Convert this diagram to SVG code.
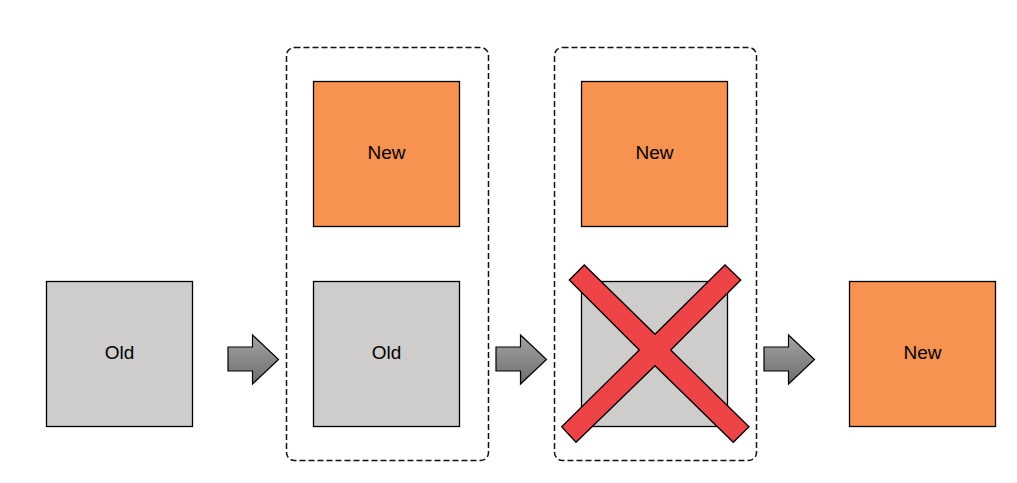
<svg xmlns="http://www.w3.org/2000/svg" width="1017" height="483" viewBox="0 0 1017 483">
<defs>
<linearGradient id="ag" x1="0" y1="0" x2="0" y2="1">
<stop offset="0" stop-color="#a3a3a3"/>
<stop offset="1" stop-color="#6e6e6e"/>
</linearGradient>
<path id="arrow" d="M0,12 H24.5 V0 L50.5,24.5 L24.5,49 V36 H0 Z"/>
</defs>
<style>
.old{fill:#cecdcc;stroke:#000;stroke-width:1.3}
.new{fill:#f79251;stroke:#000;stroke-width:1.3}
.grp{fill:none;stroke:#111;stroke-width:1.5;stroke-dasharray:6,3}
.lbl{font-family:"Liberation Sans",Arial,sans-serif;font-size:19px;fill:#000;text-anchor:middle}
.arr{fill:url(#ag);stroke:#000;stroke-width:1.2;stroke-linejoin:miter}
.cross{fill:#ef4447;stroke:#000;stroke-width:1.3;stroke-linejoin:miter}
</style>
<rect width="1017" height="483" fill="#fff"/>
<g id="group2"><rect class="grp" x="286.5" y="47.5" width="202" height="413" rx="8"/></g>
<g id="group3"><rect class="grp" x="554.5" y="47.5" width="202" height="413" rx="8"/></g>
<g id="old1"><rect class="old" x="46.5" y="281.5" width="146" height="145"/><text class="lbl" x="119.5" y="359">Old</text></g>
<g id="new2"><rect class="new" x="313.5" y="81.5" width="146" height="145"/><text class="lbl" x="386.5" y="159">New</text></g>
<g id="old2"><rect class="old" x="313.5" y="281.5" width="146" height="145"/><text class="lbl" x="386.5" y="359">Old</text></g>
<g id="new3"><rect class="new" x="581.5" y="81.5" width="146" height="145"/><text class="lbl" x="654.5" y="159">New</text></g>
<g id="old3"><rect class="old" x="581.5" y="281.5" width="146" height="145"/>
<polygon class="cross" points="569.3,280 584.3,265 655,334.3 725,265 740.7,280 670.7,350 749,426.7 733.3,442.3 655,365.7 576,442.3 561.7,426.7 639.3,350"/></g>
<g id="new4"><rect class="new" x="849.5" y="281.5" width="146" height="145"/><text class="lbl" x="922.5" y="359">New</text></g>
<g id="connectors">
<use href="#arrow" class="arr" x="228" y="335"/>
<use href="#arrow" class="arr" x="496" y="335"/>
<use href="#arrow" class="arr" x="764" y="335"/>
</g>
</svg>
